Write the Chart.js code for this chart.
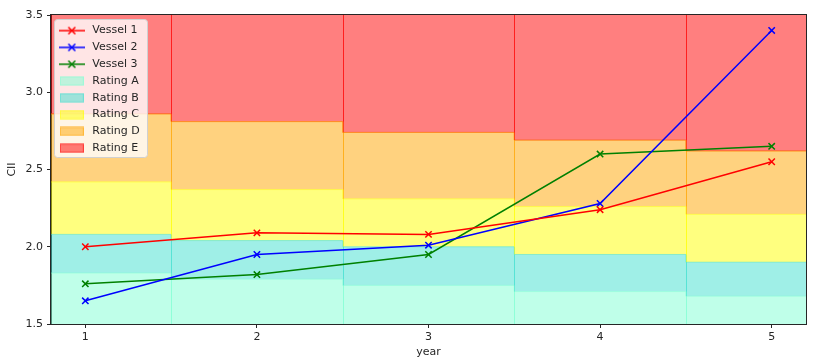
<!DOCTYPE html>
<html><head><meta charset="utf-8">
<script src="https://cdn.jsdelivr.net/npm/chart.js@4/dist/chart.umd.min.js"></script>
<style>html,body{margin:0;padding:0;background:#fff}#wrap{width:818px;height:360px}</style>
</head><body><div id="wrap"><canvas id="c" width="818" height="360"></canvas></div>
<script>
// ---- data ----
const years = [1, 2, 3, 4, 5];
const vessel1 = [2.00, 2.09, 2.08, 2.24, 2.55];
const vessel2 = [1.65, 1.95, 2.01, 2.28, 3.40];
const vessel3 = [1.76, 1.82, 1.95, 2.60, 2.65];
// rating band upper boundaries per year
const boundAB = [1.83, 1.79, 1.75, 1.71, 1.68];
const boundBC = [2.08, 2.04, 2.00, 1.95, 1.90];
const boundCD = [2.42, 2.37, 2.31, 2.26, 2.21];
const boundDE = [2.86, 2.81, 2.74, 2.69, 2.62];
const vesselNames = ['Vessel 1', 'Vessel 2', 'Vessel 3'];
const ratingNames = ['Rating A', 'Rating B', 'Rating C', 'Rating D', 'Rating E'];
const yTickValues = [1.5, 2.0, 2.5, 3.0, 3.5];
const xTickValues = years;

// ---- styles ----
const vesselColors = ['#ff0000', '#0000ff', '#008000'];
const ratingFill = ['rgba(127,255,212,0.5)', 'rgba(64,224,208,0.5)', 'rgba(255,255,0,0.5)', 'rgba(255,165,0,0.5)', 'rgba(255,0,0,0.5)'];
const ratingEdge = ['rgba(127,255,212,0.5)', 'rgba(64,224,208,0.5)', 'rgba(255,255,0,0.5)', 'rgba(255,165,0,0.5)', 'rgba(255,0,0,0.5)'];
const FONT = 'DejaVu Sans';
const INK = '#262626';

function stepPoints(bound) {
  const pts = years.map((y, i) => ({ x: y - 0.5, y: bound[i] }));
  pts.push({ x: years[years.length - 1] + 0.5, y: bound[bound.length - 1] });
  return pts;
}
function vesselPoints(vals) { return years.map((y, i) => ({ x: y, y: vals[i] })); }

function lineMarkerImg(color) {
  const c = document.createElement('canvas'); c.width = 26; c.height = 10;
  const g = c.getContext('2d'); g.strokeStyle = color; g.lineWidth = 1.5;
  g.beginPath(); g.moveTo(0, 5); g.lineTo(26, 5); g.stroke();
  g.beginPath(); g.moveTo(9.5, 1.5); g.lineTo(16.5, 8.5); g.moveTo(9.5, 8.5); g.lineTo(16.5, 1.5); g.stroke();
  return c;
}
function patchImg(fill, edge) {
  const c = document.createElement('canvas'); c.width = 24; c.height = 10;
  const g = c.getContext('2d'); g.fillStyle = fill; g.fillRect(0, 0.5, 24, 9);
  g.strokeStyle = edge; g.lineWidth = 1; g.strokeRect(0.5, 1, 23, 8);
  return c;
}
const legendImgs = vesselColors.map(lineMarkerImg).concat(ratingFill.map((f, i) => patchImg(f, ratingEdge[i])));

const datasets = [];
[vessel1, vessel2, vessel3].forEach((v, i) => datasets.push({
  label: vesselNames[i], data: vesselPoints(v), borderColor: vesselColors[i], backgroundColor: vesselColors[i],
  borderWidth: 1.5, pointStyle: 'crossRot', pointRadius: 4.5, pointBorderWidth: 1.5, pointBorderColor: vesselColors[i],
  fill: false, tension: 0
}));
const bounds = [boundAB, boundBC, boundCD, boundDE, boundDE];
const fills = ['start', '-1', '-1', '-1', 'end'];
ratingNames.forEach((n, i) => datasets.push({
  label: n, data: stepPoints(bounds[i]), stepped: 'before', fill: fills[i],
  backgroundColor: ratingFill[i], borderColor: ratingEdge[i], borderWidth: 1,
  pointRadius: 0
}));

// vertical edges of each year's rating block (drawn from the same boundary arrays via the scales)
const bandEdgesPlugin = {
  id: 'bandEdges',
  afterDatasetDraw(chart, args) {
    if (args.index !== vesselNames.length) return; // after last rating band is drawn
    const ctx = chart.ctx, xs = chart.scales.x, ys = chart.scales.y, a = chart.chartArea;
    const lows = [null, boundAB, boundBC, boundCD, boundDE];
    const ups = [boundAB, boundBC, boundCD, boundDE, null];
    ctx.save();
    ctx.beginPath(); ctx.rect(a.left, a.top, a.right - a.left, a.bottom - a.top); ctx.clip();
    ctx.lineWidth = 1;
    for (let k = 0; k < ratingNames.length; k++) {
      ctx.strokeStyle = ratingEdge[k];
      for (let i = 0; i < years.length; i++) {
        const lo = lows[k] ? ys.getPixelForValue(lows[k][i]) : a.bottom;
        const hi = ups[k] ? ys.getPixelForValue(ups[k][i]) : a.top;
        [years[i] - 0.5, years[i] + 0.5].forEach(xv => {
          const px = Math.round(xs.getPixelForValue(xv)) + 0.5;
          if (px <= a.left || px >= a.right) return;
          ctx.beginPath(); ctx.moveTo(px, lo); ctx.lineTo(px, hi); ctx.stroke();
        });
      }
    }
    ctx.restore();
  }
};

const frameLegendPlugin = {
  id: 'frameLegend',
  afterLayout(chart) { chart.legend.top += 19.3; },
  beforeDraw(chart) {
    const lg = chart.legend;
    if (lg && !lg._origDraw) { lg._origDraw = lg.draw; lg.draw = function () {}; }
  },
  afterDatasetsDraw(chart) {
    const ctx = chart.ctx, a = chart.chartArea;
    // spines
    ctx.save(); ctx.strokeStyle = INK; ctx.lineWidth = 1;
    ctx.strokeRect(Math.round(a.left) - 0.5, Math.round(a.top) - 0.5, Math.round(a.right - a.left) + 1, Math.round(a.bottom - a.top) + 1);
    // legend frame
    const x0 = a.left + 3.5, y0 = a.top + 4.5, w = 93, h = 138, r = 3;
    ctx.beginPath();
    ctx.moveTo(x0 + r, y0); ctx.lineTo(x0 + w - r, y0); ctx.arcTo(x0 + w, y0, x0 + w, y0 + r, r);
    ctx.lineTo(x0 + w, y0 + h - r); ctx.arcTo(x0 + w, y0 + h, x0 + w - r, y0 + h, r);
    ctx.lineTo(x0 + r, y0 + h); ctx.arcTo(x0, y0 + h, x0, y0 + h - r, r);
    ctx.lineTo(x0, y0 + r); ctx.arcTo(x0, y0, x0 + r, y0, r); ctx.closePath();
    ctx.fillStyle = 'rgba(255,255,255,0.8)'; ctx.fill();
    ctx.strokeStyle = '#d0d0d0'; ctx.lineWidth = 1; ctx.stroke();
    ctx.restore();
    if (chart.legend && chart.legend._origDraw) chart.legend._origDraw.call(chart.legend);
  }
};

new Chart(document.getElementById('c'), {
  type: 'line',
  data: { datasets },
  plugins: [bandEdgesPlugin, frameLegendPlugin],
  options: {
    responsive: false, animation: false, devicePixelRatio: 1,
    layout: { padding: { left: 0, right: 12, top: 15, bottom: 0 } },
    plugins: {
      tooltip: { enabled: false },
      legend: {
        position: 'chartArea', align: 'start',
        labels: {
          usePointStyle: true, pointStyleWidth: 30, padding: 5.8, color: INK,
          font: { family: FONT, size: 11 },
          generateLabels(chart) {
            return chart.data.datasets.map((d, i) => ({
              text: d.label, pointStyle: legendImgs[i], fontColor: INK, hidden: false,
              datasetIndex: i, lineWidth: 0, strokeStyle: 'transparent', fillStyle: 'transparent'
            }));
          }
        }
      }
    },
    scales: {
      x: {
        type: 'linear', min: 0.8, max: 5.2,
        afterBuildTicks(s) { s.ticks = xTickValues.map(v => ({ value: v })); },
        afterFit(s) { s.height = 36; },
        ticks: { color: INK, font: { family: FONT, size: 11 }, padding: 3, callback: v => String(v) },
        grid: { display: true, drawOnChartArea: false, drawTicks: true, tickLength: 4, color: INK, tickWidth: 1 },
        border: { display: true, color: INK, width: 1 },
        title: { display: true, text: 'year', color: INK, font: { family: FONT, size: 11 }, padding: { top: 0, bottom: 1 } }
      },
      y: {
        type: 'linear', min: 1.5, max: 3.5,
        afterBuildTicks(s) { s.ticks = yTickValues.map(v => ({ value: v })); },
        afterFit(s) { s.width = 51; },
        ticks: { color: INK, font: { family: FONT, size: 11 }, padding: 4, callback: v => v.toFixed(1) },
        grid: { display: true, drawOnChartArea: false, drawTicks: true, tickLength: 4, color: INK, tickWidth: 1 },
        border: { display: true, color: INK, width: 1 },
        title: { display: true, text: 'CII', color: INK, font: { family: FONT, size: 11 }, padding: { top: 6, bottom: 0 } }
      }
    }
  }
});
</script></body></html>
